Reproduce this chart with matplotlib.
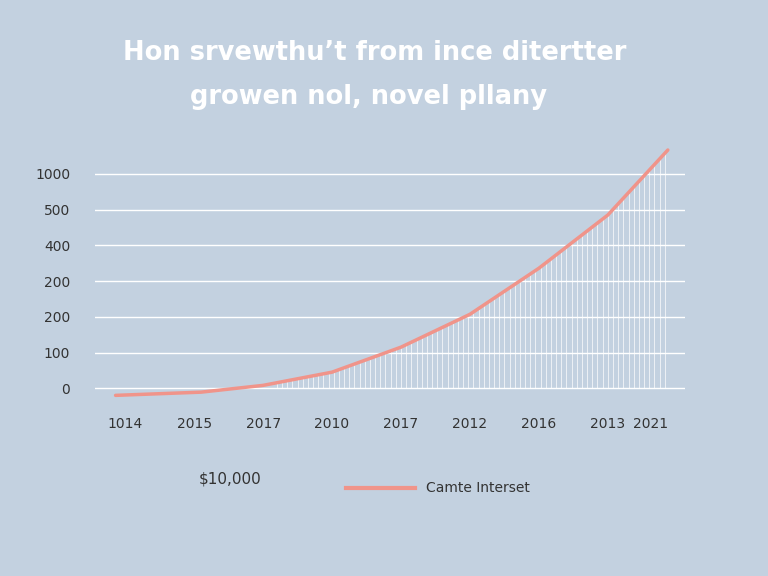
import numpy as np
import matplotlib
matplotlib.use("Agg")
import matplotlib.pyplot as plt

y_labels = ["0", "100", "200", "200", "400", "500", "1000"]
x_labels = ["1014", "2015", "2017", "2010", "2017", "2012", "2016", "2013", "2021"]
curve_x = [-0.14, 1.1, 2.0, 3.0, 4.0, 5.0, 6.0, 7.0, 7.87]
curve_y = [-0.2, -0.11, 0.08, 0.45, 1.15, 2.07, 3.36, 4.85, 6.67]

bg = "#c3d1e0"
fig = plt.figure(figsize=(7.68, 5.76), dpi=100, facecolor=bg)
ax = fig.add_axes([0.124, 0.295, 0.768, 0.465], facecolor=bg)
ax.set_xlim(-0.435, 8.12)
ax.set_ylim(-0.5, 7.0)
for s in ax.spines.values():
    s.set_visible(False)
ax.set_yticks(range(len(y_labels)))
ax.set_yticklabels(y_labels, fontsize=10, color="#333333")
xt = list(np.arange(len(x_labels) - 1, dtype=float)) + [7.62]
ax.set_xticks(xt)
ax.set_xticklabels(x_labels, fontsize=10, color="#333333")
ax.tick_params(length=0, pad=18)
ax.tick_params(axis="x", pad=8)
ax.grid(axis="y", color="white", lw=1)

cx = np.array(curve_x); cy = np.array(curve_y)
hx = np.arange(2.2, cx[-1], 0.075)
ax.vlines(hx, 0, np.interp(hx, cx, cy), color="white", lw=0.6, alpha=0.8)
ax.plot(cx, cy, color="#f0948a", lw=2.5, solid_capstyle="round")

fig.text(0.488, 0.908, "Hon srvewthu\u2019t from ince ditertter", ha="center", va="center",
         fontsize=18.5, fontweight="bold", color="white")
fig.text(0.480, 0.832, "growen nol, novel pllany", ha="center", va="center",
         fontsize=18.5, fontweight="bold", color="white")
fig.text(0.30, 0.16, "$10,000", ha="center", fontsize=11, color="#333333")
fig.add_artist(plt.Line2D([0.45, 0.54], [0.153, 0.153], color="#f0948a", lw=3))
fig.text(0.555, 0.153, "Camte Interset", va="center", fontsize=10, color="#333333")
fig.savefig("out.png", dpi=100, facecolor=bg)
